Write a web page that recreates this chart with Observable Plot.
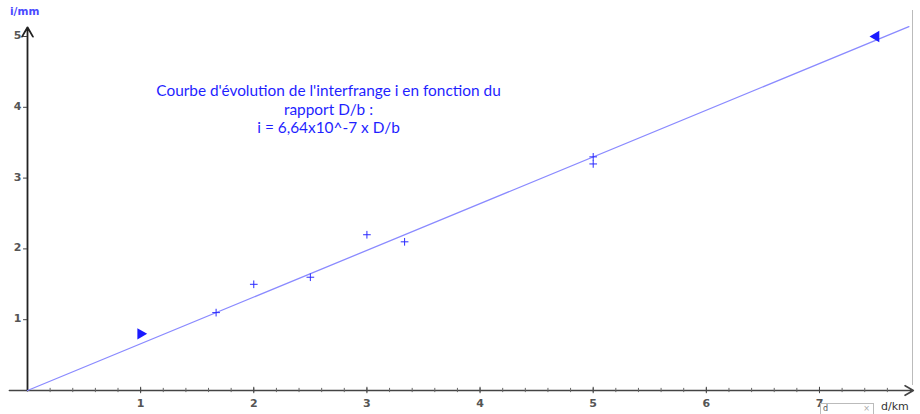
<!DOCTYPE html>
<html><head><meta charset="utf-8">
<script src="https://cdn.jsdelivr.net/npm/d3@7"></script>
<script src="https://cdn.jsdelivr.net/npm/@observablehq/plot@0.6"></script>
<style>
html,body{margin:0;padding:0;background:#fff;}
#wrap{position:relative;width:920px;height:414px;overflow:hidden;}
#box{position:absolute;left:820px;top:403px;width:54px;height:11px;border:1px solid #bbb;border-bottom:none;font:8px/10px "DejaVu Sans";color:#555;box-sizing:border-box;padding-left:2px;}
#box span{position:absolute;right:3px;top:0;color:#aaa;}
#unitx{position:absolute;left:881px;top:400px;font:11px/13px "DejaVu Sans";color:#333;}
#unity{position:absolute;left:10px;top:5px;font:bold 10.5px "DejaVu Sans";color:#4a4aff;}
#border{position:absolute;left:912px;top:10px;width:1px;height:375px;background:#bbb;}
</style></head>
<body><div id="wrap"><div id="unity">i/mm</div><div id="border"></div><div id="box">d<span>×</span></div><div id="unitx">d/km</div></div>
<script>
// Measured points (D/b, i)
const crossX = [1.667, 2, 2.5, 3, 3.333, 5, 5];
const crossY = [1.1, 1.5, 1.6, 2.2, 2.1, 3.3, 3.2];
// Triangle markers
const triX = [1, 7.5];
const triY = [0.8, 5.0];
const triRot = [90, -90];
// Fitted line endpoints
const lineX = [0, 7.79];
const lineY = [0, 5.14];
// Axis ticks
const xTicks = [1, 2, 3, 4, 5, 6, 7];
const xMinor = d3.range(1, 39).map(k => k / 5);
const yTicks = [1, 2, 3, 4, 5];
const titleLines = ["Courbe d'évolution de l'interfrange i en fonction du", "rapport D/b :", "i = 6,64x10^-7 x D/b"];

const crosses = crossX.map((x, i) => ({x, y: crossY[i]}));
const tris = triX.map((x, i) => ({x, y: triY[i], r: triRot[i]}));
const fit = lineX.map((x, i) => ({x, y: lineY[i]}));

const W = 920, H = 414;
const x0 = 27, pxX = 113.14, y0 = 390, pxY = 70.8;

const chart = Plot.plot({
  width: W, height: H,
  marginTop: 0, marginBottom: 0, marginLeft: 0, marginRight: 0,
  x: {domain: [-x0 / pxX, (W - x0) / pxX], axis: null},
  y: {domain: [-(H - y0) / pxY, y0 / pxY], axis: null},
  style: {background: "white"},
  marks: [
    // x axis
    Plot.arrow([0], {x1: -0.16, x2: 7.83, y1: 0, y2: 0, stroke: "#444", strokeWidth: 1.6, headLength: 9, bend: 0}),
    Plot.ruleX(xMinor, {x: d => d, y1: -0.03, y2: 0.03, stroke: "#666", strokeWidth: 1}),
    Plot.ruleX(xTicks, {x: d => d, y1: -0.045, y2: 0.045, stroke: "#444", strokeWidth: 1}),
    Plot.text(xTicks, {x: d => d, y: 0, dy: 13, text: d => String(d), fontFamily: "DejaVu Sans", fontSize: 11, fontWeight: "bold", fill: "#555"}),
    // y axis
    Plot.arrow([0], {x1: 0, x2: 0, y1: 0, y2: 5.13, stroke: "#222", strokeWidth: 1.8, headLength: 9, bend: 0}),
    Plot.ruleY(yTicks, {y: d => d, x1: -0.035, x2: 0, stroke: "#444", strokeWidth: 1}),
    Plot.text(yTicks, {x: 0, y: d => d, dx: -6, dy: -1, textAnchor: "end", text: d => String(d), fontFamily: "DejaVu Sans", fontSize: 11, fontWeight: "bold", fill: "#555"}),
    // fitted line
    Plot.line(fit, {x: "x", y: "y", stroke: "#8a8aff", strokeWidth: 1.3}),
    // crosses
    Plot.dot(crosses, {x: "x", y: "y", symbol: "plus", r: 2.6, stroke: "#2b2bff", strokeWidth: 1}),
    // triangles
    Plot.dot(tris, {x: "x", y: "y", symbol: "triangle", r: 4.2, fill: "#1a1aff", stroke: "none", rotate: "r"}),
    // title
    Plot.text([titleLines.join("\n")], {x: (328 - x0) / pxX, y: (y0 - 90) / pxY, text: d => d, lineAnchor: "middle", lineHeight: 1.22, fontFamily: "Lato", fontSize: 15.4, fill: "#1f1fff", textAnchor: "middle", dy: 18})
  ]
});
document.getElementById("wrap").prepend(chart);
chart.style.position = "absolute"; chart.style.left = "0"; chart.style.top = "0";
</script>
</body></html>
